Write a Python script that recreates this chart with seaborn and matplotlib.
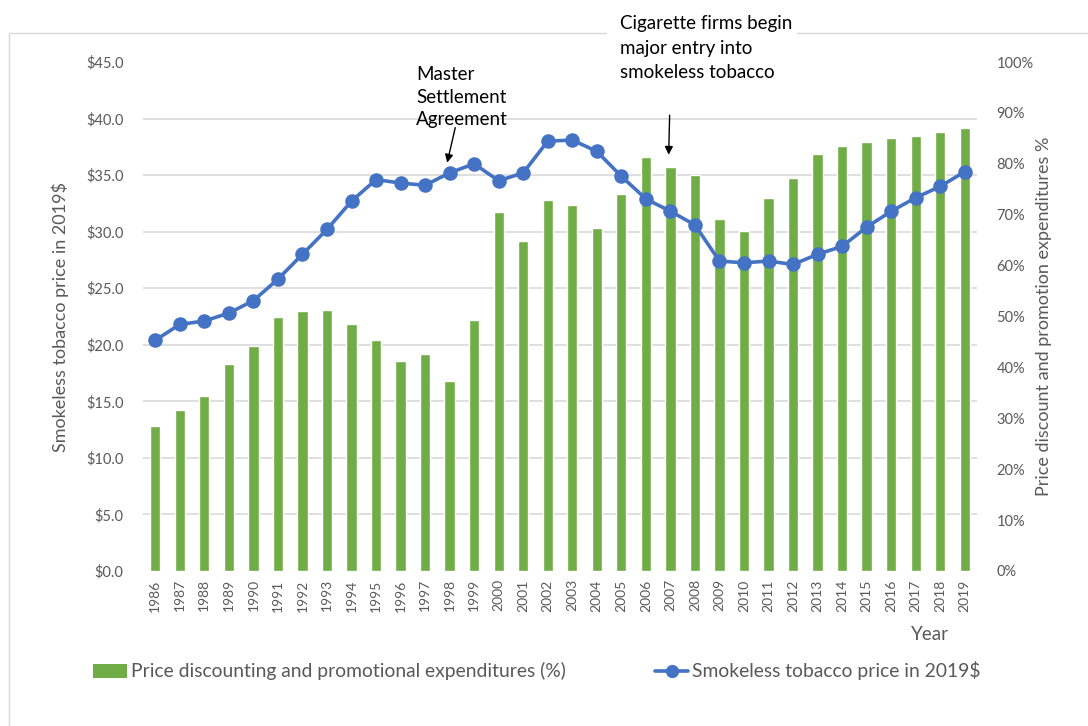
import matplotlib.pyplot as plt
import matplotlib.ticker as mticker
from matplotlib.patches import Rectangle, Patch
from matplotlib.lines import Line2D
import numpy as np
import pandas as pd
import seaborn as sns

# data
years = list(range(1986, 2020))
price_2019 = [20.4, 21.8, 22.1, 22.8, 23.9, 25.8, 28.0, 30.2, 32.7, 34.6,
              34.3, 34.1, 35.2, 36.0, 34.5, 35.2, 38.0, 38.1, 37.1, 34.9,
              32.9, 31.8, 30.6, 27.4, 27.25, 27.4, 27.1, 28.0, 28.7, 30.4,
              31.8, 33.0, 34.0, 35.3]
promo_pct = [28.5, 31.6, 34.3, 40.7, 44.2, 50.0, 51.1, 51.2, 48.6, 45.3,
             41.3, 42.7, 37.4, 49.3, 70.6, 64.8, 72.9, 71.9, 67.3, 74.1,
             81.3, 79.4, 77.8, 69.2, 66.8, 73.3, 77.3, 82.0, 83.4, 84.2,
             85.0, 85.5, 86.2, 87.1]

bar_label = 'Price discounting and promotional expenditures (%)'
line_label = 'Smokeless tobacco price in 2019$'

df = pd.DataFrame({'Year': [str(y) for y in years],
                   'Price': price_2019,
                   'Promo': promo_pct})

GREEN = '#70AD47'
BLUE = '#4472C4'
GREY = '#595959'
GRID = '#D9D9D9'

sns.set_theme(style='white')
plt.rcParams['font.family'] = ['Lato', 'DejaVu Sans']

W, H = 1088, 726
fig = plt.figure(figsize=(W / 100, H / 100), dpi=100)
ax = fig.add_axes([143 / W, 1 - 571 / H, 834 / W, 509 / H])
ax2 = ax.twinx()

# bars on the right axis (drawn underneath), line on the left axis
ax.set_zorder(ax2.get_zorder() + 1)
ax.patch.set_visible(False)

sns.barplot(data=df, x='Year', y='Promo', ax=ax2, color=GREEN,
            width=0.42, saturation=1)
sns.pointplot(data=df, x='Year', y='Price', ax=ax, color=BLUE,
              markers='o', markersize=8.5, linewidth=2.6, errorbar=None)

ax.set_xlim(-0.5, len(years) - 0.5)
ax.set_ylim(0, 45)
ax2.set_ylim(0, 100)

ax.yaxis.set_major_locator(mticker.MultipleLocator(5))
ax.yaxis.set_major_formatter(mticker.StrMethodFormatter('${x:.1f}'))
ax2.yaxis.set_major_locator(mticker.MultipleLocator(10))
ax2.yaxis.set_major_formatter(mticker.StrMethodFormatter('{x:.0f}%'))

# gridlines follow the $ axis but sit behind the bars
ax2.set_yticks(np.arange(0, 46, 5) / 45 * 100, minor=True)
ax2.grid(which='minor', axis='y', color=GRID, lw=1.2)
ax2.grid(which='major', visible=False)
ax2.set_axisbelow(True)
ax.grid(False)

for a in (ax, ax2):
    for s in a.spines.values():
        s.set_visible(False)
    a.set_xlabel('')
ax.tick_params(axis='y', length=0, pad=14, labelsize=10.5, labelcolor=GREY)
ax2.tick_params(axis='y', which='both', length=0, pad=14, labelsize=10.5,
                labelcolor=GREY)
ax.tick_params(axis='x', length=0, pad=6, labelsize=10, labelcolor=GREY,
               labelrotation=90)

ax.set_ylabel(line_label, fontsize=13, color=GREY)
ax.yaxis.set_label_coords((69 - 143) / 834, 0.5)
ax2.set_ylabel('Price discount and promotion expenditures %', fontsize=13,
               color=GREY)
ax2.yaxis.set_label_coords((1036 - 143) / 834, 0.5)

fig.text(930 / W, 1 - 634 / H, 'Year', ha='center', va='center',
         fontsize=13.5, color=GREY)

# outer chart frame
fig.add_artist(Rectangle((9 / W, -0.1), 1.2, (H - 33) / H + 0.1,
                         transform=fig.transFigure, fill=False,
                         edgecolor=GRID, lw=1, zorder=0))

# annotations
fig.text(416 / W, 1 - 66 / H, 'Master\nSettlement\nAgreement',
         ha='left', va='top', fontsize=13.5, color='black', linespacing=1.4)
ax.annotate('', xy=(11.9, 36.1), xytext=(12.23, 39.2),
            arrowprops=dict(arrowstyle='-|>', color='black', lw=1,
                            mutation_scale=12, shrinkA=0, shrinkB=0))

fig.add_artist(Rectangle((607 / W, 1 - 92 / H), 190 / W, 92 / H,
                         transform=fig.transFigure, facecolor='white',
                         edgecolor='none', zorder=5))
fig.text(620 / W, 1 - 15 / H, 'Cigarette firms begin\nmajor entry into\nsmokeless tobacco',
         ha='left', va='top', fontsize=13.5, color='black', linespacing=1.55,
         zorder=6)
ax.annotate('', xy=(20.93, 36.8), xytext=(20.97, 40.3),
            arrowprops=dict(arrowstyle='-|>', color='black', lw=1,
                            mutation_scale=12, shrinkA=0, shrinkB=0))

# legend
handles = [Patch(facecolor=GREEN, edgecolor='none'),
           Line2D([], [], color=BLUE, marker='o', lw=2.6, markersize=8.5)]
fig.legend(handles, [bar_label, line_label], ncol=2, loc='center left',
           bbox_to_anchor=(76 / W, 1 - 671 / H), frameon=False,
           fontsize=13.9, handlelength=1.75, handletextpad=0.2,
           columnspacing=4.6, labelcolor=GREY)

fig.savefig('out.png', dpi=100)
